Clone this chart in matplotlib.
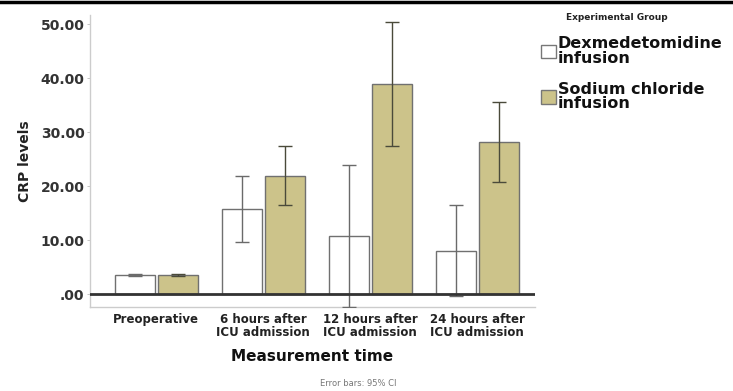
import matplotlib

matplotlib.use("Agg")
import matplotlib.pyplot as plt
import numpy as np
from matplotlib.lines import Line2D
from matplotlib.patches import Patch

plt.rcParams["font.family"] = ["DejaVu Sans"]
plt.rcParams["font.weight"] = "bold"

TIMES = ["Preoperative", "6 hours after\nICU admission", "12 hours after\nICU admission",
         "24 hours after\nICU admission"]
GROUPS = ["Dexmedetomidine\ninfusion", "Sodium chloride\ninfusion"]

# mean CRP and 95% CI bounds per group
DEX_MEAN = [3.5, 15.7, 10.7, 8.0]
DEX_LO = [3.35, 9.6, -2.4, -0.3]
DEX_HI = [3.65, 21.9, 24.0, 16.5]
NACL_MEAN = [3.5, 21.9, 38.9, 28.1]
NACL_LO = [3.35, 16.5, 27.4, 20.7]
NACL_HI = [3.65, 27.4, 50.4, 35.5]

FILL = {"dex": "white", "nacl": "#CCC38A"}

fig = plt.figure(figsize=(7.33, 3.91), dpi=100)
ax = fig.add_axes([90 / 733, 1 - 307 / 391, 445 / 733, 292 / 391])

x = np.arange(len(TIMES))
w = 0.375
off = 0.2
for means, lo, hi, key, ecol in (
    (DEX_MEAN, DEX_LO, DEX_HI, "dex", "#6a6a6a"),
    (NACL_MEAN, NACL_LO, NACL_HI, "nacl", "#4a4a3a"),
):
    pos = x - off if key == "dex" else x + off
    m = np.array(means)
    yerr = [m - np.array(lo), np.array(hi) - m]
    ax.bar(pos, m, width=w, color=FILL[key], edgecolor="#707070", linewidth=1.0, zorder=2)
    ax.errorbar(pos, m, yerr=yerr, fmt="none", ecolor=ecol, elinewidth=1.0,
                capsize=5, capthick=1.0, zorder=3)

ax.axhline(0, color="#333333", linewidth=2.0, zorder=4)
ax.set_xlim(-0.62, 3.54)
ax.set_ylim(-2.4, 51.7)
ax.set_yticks([0, 10, 20, 30, 40, 50])
ax.set_yticklabels([".00", "10.00", "20.00", "30.00", "40.00", "50.00"])
ax.set_xticks(x)
ax.set_xticklabels(TIMES, fontsize=8.5, linespacing=1.05)
ax.tick_params(axis="x", length=0, pad=4, colors="#222222")
ax.tick_params(axis="y", length=2, width=0.6, color="#bbbbbb", labelsize=10,
               labelcolor="#333333", pad=2)
for side in ("top", "right"):
    ax.spines[side].set_visible(False)
for side in ("left", "bottom"):
    ax.spines[side].set_color("#cccccc")
    ax.spines[side].set_linewidth(1.0)

ax.set_ylabel("CRP levels", fontsize=10, fontweight="bold", color="#222222", labelpad=6)
ax.set_xlabel("Measurement time", fontsize=11, fontweight="bold", color="#111111", labelpad=7)

handles = [Patch(facecolor=FILL["dex"], edgecolor="#777777"),
           Patch(facecolor=FILL["nacl"], edgecolor="#777777")]
leg = fig.legend(handles, GROUPS, loc="upper left", bbox_to_anchor=(530 / 733, 1 - 25 / 391),
                 frameon=False, fontsize=11.5,
                 handlelength=0.95, handleheight=0.95, handletextpad=0.1,
                 labelspacing=1.0, borderpad=0.2)
for t in leg.get_texts():
    t.set_linespacing(0.95)
    t.set_color("#111111")
fig.text(617 / 733, 1 - 18 / 391, "Experimental Group", fontsize=6.5, color="#222222",
         ha="center", va="center")

fig.text(358 / 733, 1 - 383 / 391, "Error bars: 95% CI", fontsize=6, color="#777777",
         ha="center", va="center", fontweight="normal")

# thick rule across the top edge
fig.add_artist(Line2D([0, 1], [1 - 1.5 / 391, 1 - 1.5 / 391], color="black", linewidth=2.5))

fig.savefig("out.png", dpi=100)
